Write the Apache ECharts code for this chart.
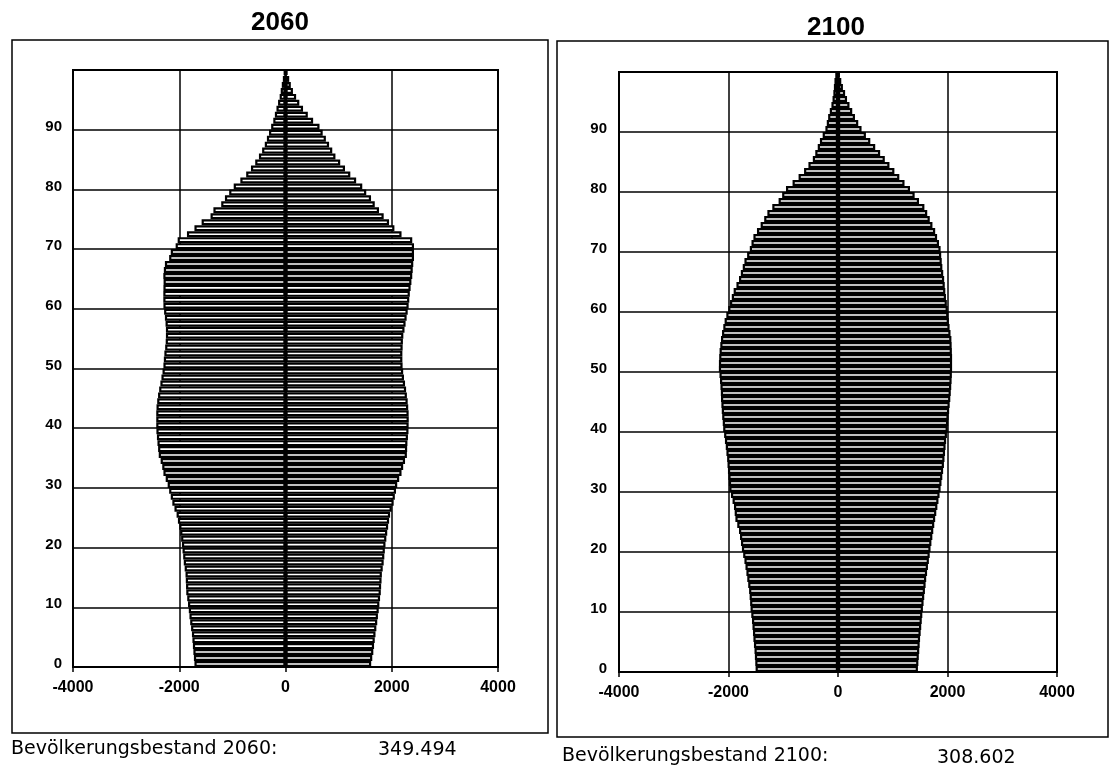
<!DOCTYPE html>
<html>
<head>
<meta charset="utf-8">
<script src="https://cdn.jsdelivr.net/npm/echarts@6/dist/echarts.min.js"></script>
<style>
  html, body { margin: 0; padding: 0; background: #fff; }
  #chart { width: 1110px; height: 769px; }
</style>
</head>
<body>
<div id="chart"></div>
<script>
// Age groups 0..99 (one bar per single year of age)
const ages = Array.from({ length: 100 }, (_, i) => String(i));

// Population by age, 2060 (left = men, right = women), index = age
const men2060 = [
  1714, 1724, 1734, 1743, 1752, 1761, 1777, 1794, 1808, 1820,
  1835, 1850, 1868, 1872, 1877, 1882, 1898, 1915, 1926, 1938,
  1949, 1965, 1982, 2000, 2025, 2050, 2090, 2130, 2160, 2190,
  2218, 2255, 2298, 2320, 2350, 2386, 2398, 2410, 2420, 2430,
  2433, 2433, 2433, 2428, 2415, 2399, 2378, 2355, 2335, 2315,
  2298, 2290, 2280, 2265, 2255, 2251, 2251, 2258, 2270, 2285,
  2298, 2300, 2300, 2298, 2295, 2300, 2290, 2270, 2190, 2160,
  2068, 2030, 1855, 1714, 1579, 1411, 1357, 1210, 1140, 1060,
  975, 850, 740, 650, 570, 500, 440, 390, 350, 310,
  270, 230, 200, 170, 140, 110, 90, 70, 50, 30
];
const women2060 = [
  1613, 1633, 1653, 1667, 1680, 1694, 1710, 1727, 1740, 1755,
  1767, 1780, 1794, 1800, 1808, 1814, 1830, 1848, 1860, 1870,
  1882, 1898, 1915, 1932, 1950, 1969, 2000, 2036, 2058, 2080,
  2103, 2140, 2184, 2215, 2250, 2285, 2290, 2295, 2305, 2315,
  2318, 2320, 2318, 2310, 2300, 2285, 2270, 2250, 2230, 2215,
  2204, 2200, 2200, 2205, 2210, 2218, 2240, 2260, 2280, 2300,
  2318, 2330, 2340, 2355, 2370, 2386, 2395, 2405, 2419, 2419,
  2419, 2386, 2184, 2050, 1949, 1848, 1760, 1680, 1610, 1520,
  1445, 1330, 1220, 1120, 1030, 940, 880, 820, 760, 700,
  640, 520, 420, 330, 260, 200, 140, 100, 70, 40
];

// Population by age, 2100
const men2100 = [
  1505, 1511, 1518, 1525, 1535, 1545, 1553, 1562, 1571, 1584,
  1597, 1605, 1614, 1624, 1640, 1657, 1673, 1690, 1709, 1732,
  1755, 1772, 1790, 1808, 1840, 1874, 1887, 1900, 1926, 1955,
  1985, 1993, 2002, 2010, 2018, 2025, 2038, 2050, 2065, 2080,
  2097, 2105, 2115, 2123, 2130, 2137, 2140, 2147, 2155, 2165,
  2176, 2175, 2170, 2163, 2150, 2137, 2118, 2095, 2071, 2040,
  2005, 1972, 1940, 1906, 1855, 1808, 1775, 1740, 1709, 1660,
  1611, 1580, 1545, 1480, 1413, 1348, 1290, 1200, 1085, 1020,
  950, 830, 720, 620, 540, 460, 415, 370, 330, 280,
  230, 205, 180, 150, 120, 100, 85, 75, 65, 50
];
const women2100 = [
  1460, 1468, 1476, 1484, 1492, 1499, 1510, 1520, 1530, 1540,
  1551, 1563, 1575, 1588, 1600, 1611, 1627, 1643, 1660, 1675,
  1690, 1706, 1723, 1740, 1758, 1775, 1795, 1815, 1835, 1855,
  1874, 1890, 1905, 1920, 1935, 1945, 1955, 1965, 1975, 1990,
  2005, 2012, 2020, 2030, 2040, 2051, 2060, 2068, 2075, 2080,
  2084, 2084, 2084, 2080, 2076, 2071, 2055, 2038, 2025, 2015,
  2005, 1988, 1972, 1960, 1950, 1939, 1922, 1906, 1895, 1885,
  1874, 1845, 1810, 1775, 1725, 1676, 1630, 1578, 1480, 1400,
  1315, 1215, 1120, 1030, 940, 855, 770, 680, 590, 510,
  430, 370, 310, 260, 210, 165, 130, 90, 60, 30
];

const panelTitles = ['2060', '2100'];
const totalLabels = ['Bevölkerungsbestand 2060:', 'Bevölkerungsbestand 2100:'];
const totalValues = ['349.494', '308.602'];

const AXIS_FONT = '"Liberation Sans", Arial, sans-serif';
const TEXT_FONT = '"DejaVu Sans", sans-serif';

function xAxisFor(idx) {
  return {
    gridIndex: idx, type: 'value', min: -4000, max: 4000, interval: 2000,
    axisLine: { show: false },
    axisTick: { show: true, length: 5, lineStyle: { color: '#000', width: 1.5 } },
    axisLabel: { margin: 13, fontSize: 16, fontWeight: 'bold', fontFamily: AXIS_FONT, color: '#000',
                 formatter: v => String(v) },
    splitLine: { show: true, lineStyle: { color: '#000', width: 1.5 } }
  };
}
function yAxisFor(idx, margin) {
  return {
    gridIndex: idx, type: 'category', data: ages, boundaryGap: true,
    axisLine: { show: false },
    axisTick: { show: false, interval: 9 },
    axisLabel: { interval: 9, margin: margin, fontSize: 15, fontWeight: 'bold', fontFamily: AXIS_FONT, color: '#000' },
    splitLine: { show: true, interval: 9, lineStyle: { color: '#000', width: 1.5 } }
  };
}
function barSeries(idx, values, sign, withCentre) {
  const s = {
    type: 'bar', xAxisIndex: idx, yAxisIndex: idx,
    data: values.map(v => sign * v),
    barWidth: '100%', barGap: '-100%',
    itemStyle: { color: '#fff', borderColor: '#000', borderWidth: 2.2 },
    silent: true
  };
  if (withCentre) {
    // heavy centre line separating men and women
    s.markLine = {
      silent: true, symbol: 'none', label: { show: false },
      lineStyle: { color: '#000', width: 2.5, type: 'solid' },
      data: [{ xAxis: 0 }]
    };
  }
  return s;
}
function text(x, y, str, font, align) {
  return {
    type: 'text', x: x, y: y, silent: true,
    style: { text: str, font: font, fill: '#000',
             align: align, verticalAlign: 'middle',
             textAlign: align, textVerticalAlign: 'middle' }
  };
}

const chart = echarts.init(document.getElementById('chart'), null, { renderer: 'canvas' });
chart.setOption({
  animation: false,
  backgroundColor: '#fff',
  grid: [
    { left: 73, top: 70, width: 425, height: 597, show: true, borderColor: '#000', borderWidth: 2, backgroundColor: 'transparent' },
    { left: 619, top: 72, width: 438, height: 600, show: true, borderColor: '#000', borderWidth: 2, backgroundColor: 'transparent' }
  ],
  xAxis: [xAxisFor(0), xAxisFor(1)],
  yAxis: [yAxisFor(0, 11), yAxisFor(1, 12)],
  series: [
    barSeries(0, men2060, -1, false),
    barSeries(0, women2060, 1, true),
    barSeries(1, men2100, -1, false),
    barSeries(1, women2100, 1, true)
  ],
  graphic: [
    { type: 'rect', silent: true, z: -10, shape: { x: 12, y: 40, width: 536, height: 693 },
      style: { fill: 'transparent', stroke: '#000', lineWidth: 1.5 } },
    { type: 'rect', silent: true, z: -10, shape: { x: 557, y: 41, width: 551, height: 696 },
      style: { fill: 'transparent', stroke: '#000', lineWidth: 1.5 } },
    text(280, 23, panelTitles[0], 'bold 26px ' + AXIS_FONT, 'center'),
    text(836, 28, panelTitles[1], 'bold 26px ' + AXIS_FONT, 'center'),
    text(11, 749, totalLabels[0], '19px ' + TEXT_FONT, 'left'),
    text(378, 750, totalValues[0], '19px ' + TEXT_FONT, 'left'),
    text(562, 756, totalLabels[1], '19px ' + TEXT_FONT, 'left'),
    text(937, 758, totalValues[1], '19px ' + TEXT_FONT, 'left')
  ]
});
</script>
</body>
</html>
